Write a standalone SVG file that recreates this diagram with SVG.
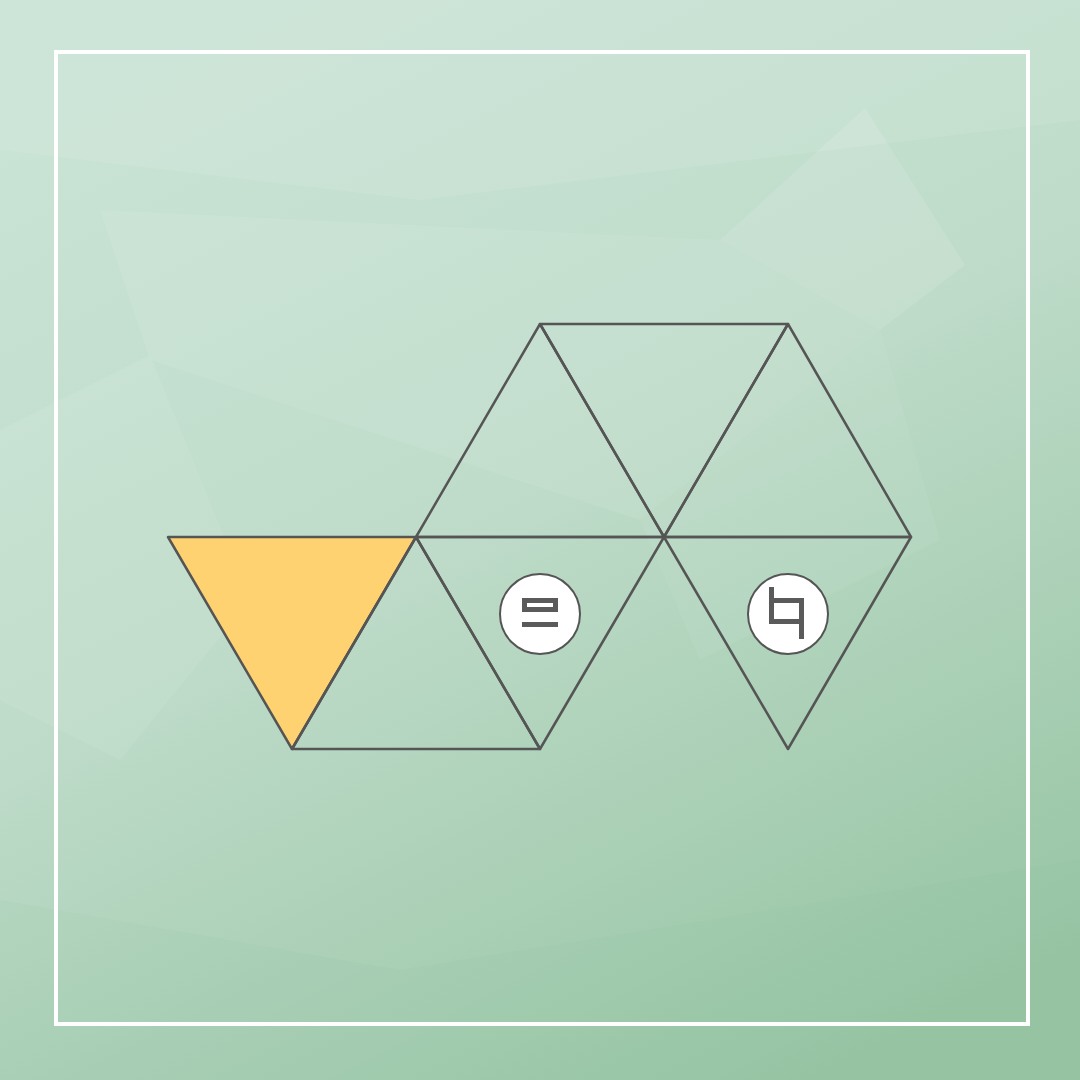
<svg xmlns="http://www.w3.org/2000/svg" width="1080" height="1080" viewBox="0 0 1080 1080">
<defs>
<linearGradient id="bg" x1="0.25" y1="0" x2="0.75" y2="1">
<stop offset="0" stop-color="#c9e3d5"/>
<stop offset="0.45" stop-color="#bfdcca"/>
<stop offset="1" stop-color="#98c5a4"/>
</linearGradient>
<style>
.edge{fill:none;stroke:#555;stroke-width:2.5;stroke-linejoin:round}
.yellow{fill:#ffd271}
.badge{fill:#fff;stroke:#555;stroke-width:2}
.glyph{fill:none;stroke:#5a5a5a;stroke-width:5}
.glyphfill{fill:#5a5a5a}
.sheen{fill:#fff}
</style>
</defs>
<rect width="1080" height="1080" fill="url(#bg)"/>
<g id="background-shapes">
<polygon class="sheen" opacity="0.09" points="0,0 1080,0 1080,120 420,200 0,150"/>
<polygon class="sheen" opacity="0.08" points="100,210 720,240 880,330 640,520 150,360"/>
<polygon class="sheen" opacity="0.11" points="720,240 865,108 965,265 880,330"/>
<polygon class="sheen" opacity="0.07" points="0,430 150,355 250,600 120,760 0,700"/>
<polygon class="sheen" opacity="0.05" points="640,520 880,330 940,540 700,660"/>
<polygon fill="#7fb592" opacity="0.06" points="0,900 400,970 1080,860 1080,1080 0,1080"/>
</g>
<rect id="frame" x="56" y="52" width="972" height="972" fill="none" stroke="#fff" stroke-width="4"/>
<g id="net">
<g id="tri-1"><polygon class="edge yellow" points="168,537 416,537 292,749"/></g>
<g id="tri-2"><polygon class="edge" points="416,537 292,749 540,749"/></g>
<g id="tri-3"><polygon class="edge" points="416,537 664,537 540,749"/></g>
<g id="tri-4"><polygon class="edge" points="416,537 540,324 664,537"/></g>
<g id="tri-5"><polygon class="edge" points="540,324 788,324 664,537"/></g>
<g id="tri-6"><polygon class="edge" points="664,537 788,324 911,537"/></g>
<g id="tri-7"><polygon class="edge" points="664,537 911,537 788,749"/></g>
</g>
<g id="badge-1">
<circle class="badge" cx="540" cy="614" r="40"/>
<rect class="glyph" x="524.5" y="600.5" width="31" height="9"/>
<rect class="glyphfill" x="522" y="622" width="36" height="5"/>
</g>
<g id="badge-2">
<circle class="badge" cx="788" cy="614" r="40"/>
<rect class="glyph" x="771.5" y="600.5" width="30" height="21"/>
<rect class="glyphfill" x="769" y="587" width="5" height="14"/>
<rect class="glyphfill" x="799" y="621" width="5" height="18"/>
</g>
</svg>
